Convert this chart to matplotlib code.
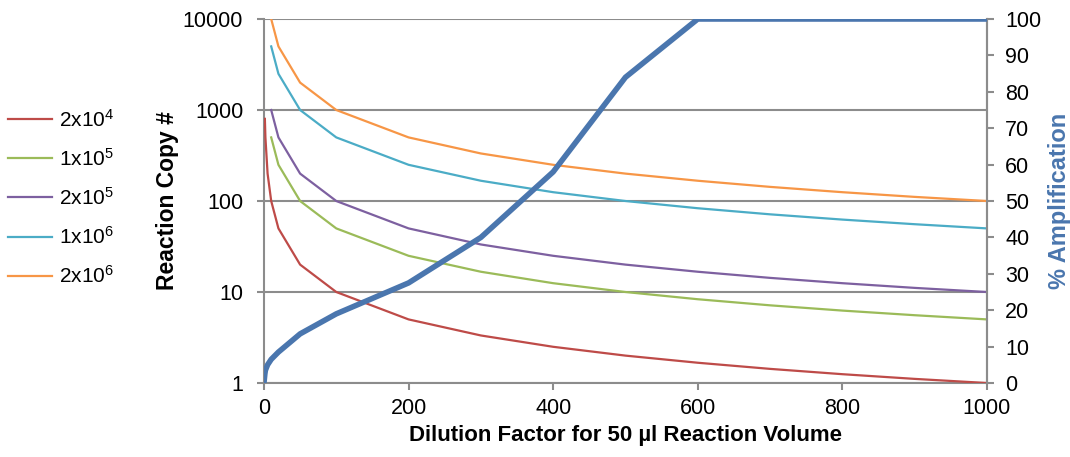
import matplotlib
matplotlib.use("Agg")
from matplotlib import pyplot as plt

plt.rcParams['font.family'] = ['Liberation Sans', 'DejaVu Sans']
plt.rcParams['mathtext.fontset'] = 'custom'
plt.rcParams['mathtext.rm'] = 'Liberation Sans'
plt.rcParams['mathtext.it'] = 'Liberation Sans'

# dilution factors
dil_red = [1.25, 2, 5, 10, 20, 50, 100, 200, 300, 400, 500, 600, 700, 800, 900, 1000]
dil = [10, 20, 50, 100, 200, 300, 400, 500, 600, 700, 800, 900, 1000]

# reaction copy numbers
copies_2e4 = [800, 500, 200, 100, 50, 20, 10, 5, 3.33, 2.5, 2, 1.67, 1.43, 1.25, 1.11, 1]
copies_1e5 = [500, 250, 100, 50, 25, 16.7, 12.5, 10, 8.33, 7.14, 6.25, 5.56, 5]
copies_2e5 = [1000, 500, 200, 100, 50, 33.3, 25, 20, 16.7, 14.3, 12.5, 11.1, 10]
copies_1e6 = [5000, 2500, 1000, 500, 250, 167, 125, 100, 83.3, 71.4, 62.5, 55.6, 50]
copies_2e6 = [10000, 5000, 2000, 1000, 500, 333, 250, 200, 167, 143, 125, 111, 100]

# % amplification
dil_amp = [0, 1.25, 2, 5, 10, 20, 50, 100, 200, 300, 400, 500, 600, 700, 800, 900, 1000]
amp = [0, 2.5, 3.5, 5, 6.5, 8.5, 13.5, 19, 27.5, 40, 58, 84, 100, 100, 100, 100, 100]

labels = ['2x10$^{4}$', '1x10$^{5}$', '2x10$^{5}$', '1x10$^{6}$', '2x10$^{6}$']
colors = ['#BE4B48', '#9BBB59', '#7D60A0', '#4BACC6', '#F79646']
gray = '#8C8C8C'
blue = '#4A76AE'

fig = plt.figure(figsize=(10.7, 4.57), dpi=100)
ax = fig.add_axes([0.2467, 0.1619, 0.6757, 0.7965])

series = [(dil_red, copies_2e4), (dil, copies_1e5), (dil, copies_2e5),
          (dil, copies_1e6), (dil, copies_2e6)]
handles = []
for (x, y), c, lab in zip(series, colors, labels):
    h, = ax.plot(x, y, color=c, lw=1.6, label=lab, zorder=3)
    handles.append(h)

ax.set_yscale('log')
ax.set_ylim(1, 10000)
ax.set_xlim(0, 1000)
ax.set_yticks([1, 10, 100, 1000, 10000])
ax.set_yticklabels(['1', '10', '100', '1000', '10000'])
ax.minorticks_off()
ax.set_xticks(range(0, 1001, 200))
ax.grid(axis='y', color=gray, lw=1.5)
ax.set_axisbelow(True)
ax.spines['top'].set_visible(False)
for s in ['left', 'right', 'bottom']:
    ax.spines[s].set_color(gray)
    ax.spines[s].set_linewidth(1.5)
ax.tick_params(colors=gray, labelcolor='black', labelsize=15.5, length=5, width=1.5)
ax.tick_params(axis='y', pad=10)
ax.tick_params(axis='x', pad=6)
ax.set_ylabel('Reaction Copy #', fontsize=16.5, fontweight='bold', labelpad=3)
ax.set_xlabel('Dilution Factor for 50 \u00b5l Reaction Volume', fontsize=16,
              fontweight='bold', labelpad=4)

ax2 = ax.twinx()
ax2.plot(dil_amp, amp, color=blue, lw=4, zorder=4, solid_capstyle='butt')
ax2.set_ylim(0, 100)
ax2.set_yticks(range(0, 101, 10))
for s in ['top', 'left', 'bottom']:
    ax2.spines[s].set_visible(False)
ax2.spines['right'].set_color(gray)
ax2.spines['right'].set_linewidth(1.5)
ax2.tick_params(colors=gray, labelcolor='black', labelsize=15.5, length=5, width=1.5, pad=8)
ax2.set_ylabel('% Amplification', fontsize=17, fontweight='bold', color=blue,
               labelpad=5)

fig.legend(handles=handles, labels=labels, loc='upper left',
           bbox_to_anchor=(0.0, 0.781), frameon=False, fontsize=15,
           borderaxespad=0.0, handlelength=2.1, labelspacing=0.83,
           handletextpad=0.35)

fig.savefig('out.png', dpi=100)
